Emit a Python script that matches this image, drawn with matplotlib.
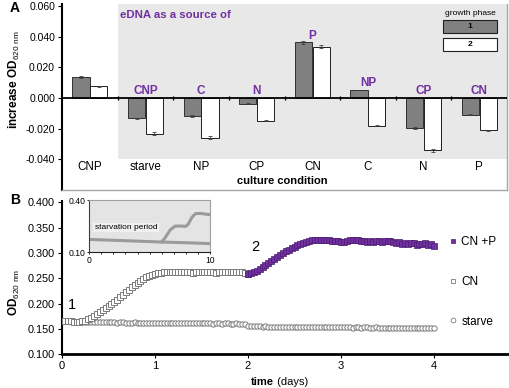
import numpy as np
import matplotlib

matplotlib.use("Agg")

import matplotlib.pyplot as plt
from matplotlib.patches import Rectangle
from matplotlib.lines import Line2D

plt.rcParams["font.family"] = ["Liberation Sans", "DejaVu Sans"]
plt.rcParams["mathtext.fontset"] = "custom"
plt.rcParams["mathtext.rm"] = "Liberation Sans"
plt.rcParams["mathtext.bf"] = "Liberation Sans:bold"

# ---- panel A data ----
categories = ["CNP", "starve", "NP", "CP", "CN", "C", "N", "P"]
edna_source = ["", "CNP", "C", "N", "P", "NP", "CP", "CN"]
phase1 = [0.0138, -0.0133, -0.0118, -0.0038, 0.0362, 0.0053, -0.0195, -0.0110]
phase2 = [0.0075, -0.0232, -0.0258, -0.0148, 0.0335, -0.0180, -0.0342, -0.0212]
err1 = [0.0005, 0.0005, 0.0005, 0.0003, 0.0012, 0.0002, 0.0006, 0.0003]
err2 = [0.0004, 0.0008, 0.0008, 0.0005, 0.0010, 0.0005, 0.0010, 0.0005]

# ---- panel B data (one reading every 1/32 day) ----
cn = [
    0.166, 0.166, 0.165, 0.165, 0.164, 0.164, 0.164, 0.165,
    0.166, 0.169, 0.172, 0.176, 0.180, 0.184, 0.188, 0.192,
    0.196, 0.199, 0.203, 0.208, 0.213, 0.217, 0.222, 0.227,
    0.232, 0.237, 0.241, 0.245, 0.249, 0.252, 0.255, 0.257,
    0.259, 0.260, 0.261, 0.262, 0.262, 0.263, 0.263, 0.262,
    0.263, 0.262, 0.263, 0.263, 0.262, 0.261, 0.262, 0.263,
    0.263, 0.262, 0.263, 0.263, 0.262, 0.261, 0.262, 0.263,
    0.263, 0.262, 0.262, 0.263, 0.262, 0.263, 0.262, 0.261,
    0.258,
]
starve = [
    0.166, 0.166, 0.165, 0.165, 0.165, 0.164, 0.164, 0.164, 0.164, 0.163, 0.163, 0.163, 0.163, 0.163, 0.163, 0.163,
    0.163, 0.163, 0.163, 0.162, 0.163, 0.163, 0.162, 0.162, 0.162, 0.163, 0.162, 0.162, 0.162, 0.162, 0.162, 0.162,
    0.162, 0.162, 0.161, 0.162, 0.162, 0.161, 0.162, 0.162, 0.161, 0.161, 0.161, 0.162, 0.161, 0.161, 0.161, 0.161,
    0.161, 0.161, 0.161, 0.161, 0.160, 0.161, 0.161, 0.160, 0.161, 0.161, 0.160, 0.160, 0.161, 0.160, 0.160, 0.159,
    0.156, 0.155, 0.155, 0.155, 0.155, 0.154, 0.155, 0.154, 0.154, 0.154, 0.154, 0.154, 0.154, 0.154, 0.154, 0.154,
    0.154, 0.154, 0.153, 0.154, 0.154, 0.153, 0.153, 0.154, 0.153, 0.153, 0.153, 0.153, 0.153, 0.154, 0.153, 0.153,
    0.153, 0.153, 0.153, 0.153, 0.152, 0.153, 0.153, 0.152, 0.153, 0.153, 0.152, 0.152, 0.153, 0.152, 0.152, 0.152,
    0.152, 0.152, 0.152, 0.152, 0.152, 0.151, 0.152, 0.152, 0.152, 0.151, 0.152, 0.152, 0.151, 0.151, 0.152, 0.151,
    0.151,
]
cn_p = [
    0.258, 0.260, 0.262, 0.265, 0.268, 0.272, 0.276, 0.280, 0.284, 0.288, 0.292, 0.296, 0.299, 0.303, 0.306, 0.309,
    0.312, 0.315, 0.317, 0.320, 0.322, 0.324, 0.325, 0.326, 0.326, 0.325, 0.326, 0.325, 0.326, 0.324, 0.323, 0.324,
    0.321, 0.321, 0.324, 0.326, 0.326, 0.326, 0.326, 0.323, 0.323, 0.322, 0.323, 0.322, 0.324, 0.323, 0.321, 0.323,
    0.323, 0.323, 0.322, 0.320, 0.322, 0.318, 0.319, 0.317, 0.319, 0.320, 0.316, 0.318, 0.317, 0.319, 0.315, 0.317,
    0.313,
]
t_cn = np.arange(len(cn)) / 32
t_starve = np.arange(len(starve)) / 32
t_cn_p = 2 + np.arange(len(cn_p)) / 32

# inset: starvation period
inset_t_low = [0, 2, 4, 6, 8, 10]
inset_low = [0.174, 0.169, 0.164, 0.159, 0.155, 0.150]
inset_t_high = [6.0, 6.3, 6.7, 7.1, 7.5, 8.0, 8.2, 8.5, 8.8, 9.2, 10]
inset_high = [0.160, 0.185, 0.228, 0.250, 0.251, 0.249, 0.262, 0.300, 0.322, 0.323, 0.316]

PURPLE = "#7030a0"

fig = plt.figure(figsize=(5.1, 3.88), dpi=100)

# ================= panel A =================
axA = fig.add_axes([0.1216, 0.5103, 0.8726, 0.4804])
x = np.arange(len(categories))
axA.add_patch(Rectangle((0.5, -0.040), 7.0, 0.2, facecolor="#e8e8e8", lw=0, zorder=0))
axA.bar(x - 0.16, phase1, 0.31, color="#808080", edgecolor="#303030", lw=0.7, zorder=2,
        yerr=err1, error_kw=dict(ecolor="#404040", elinewidth=0.6, capsize=1.5, capthick=0.6))
axA.bar(x + 0.16, phase2, 0.31, color="white", edgecolor="#202020", lw=0.7, zorder=2,
        yerr=err2, error_kw=dict(ecolor="#404040", elinewidth=0.6, capsize=1.5, capthick=0.6))
axA.axhline(0, color="black", lw=1.3, zorder=3)
axA.plot(np.arange(0.5, 7.5, 1), np.zeros(7), ls="none", marker="|", ms=2.5, mew=1,
         color="black", zorder=3)

axA.set_xlim(-0.5, 7.5)
axA.set_ylim(-0.060, 0.0615)
axA.set_xticks([])
yt = [-0.04, -0.02, 0.0, 0.02, 0.04, 0.06]
axA.set_yticks(yt)
axA.set_yticklabels([f"{v:.3f}" for v in yt], fontsize=7.5)
axA.tick_params(axis="y", length=3, width=0.8, pad=2)
axA.spines["top"].set_visible(False)
axA.spines["left"].set_linewidth(1.5)
for s in ("right", "bottom"):
    axA.spines[s].set_color("#a6a6a6")
    axA.spines[s].set_linewidth(1.0)

for i, cat in enumerate(categories):
    axA.text(i, -0.045, cat, ha="center", va="center", fontsize=8.4)
    if edna_source[i]:
        axA.text(i, max(phase1[i], 0) + 0.0045, edna_source[i], ha="center", va="center",
                 fontsize=8.5, fontweight="bold", color=PURPLE, zorder=4)
axA.text(3.46, -0.054, "culture condition", ha="center", va="center", fontsize=8,
         fontweight="bold")
axA.text(0.54, 0.054, "eDNA as a source of", ha="left", va="center", fontsize=8.2,
         fontweight="bold", color=PURPLE)

# growth phase key
axA.text(0.917, 0.948, "growth phase", transform=axA.transAxes, ha="center", va="center",
         fontsize=6)
for (y0, face, lab) in [(0.842, "#808080", "1"), (0.746, "white", "2")]:
    axA.add_patch(Rectangle((0.856, y0), 0.121, 0.07, transform=axA.transAxes,
                            facecolor=face, edgecolor="#202020", lw=0.8, zorder=4))
    axA.text(0.9165, y0 + 0.035, lab, transform=axA.transAxes, ha="center", va="center",
             fontsize=6, fontweight="bold", zorder=5)

# ================= panel B =================
axB = fig.add_axes([0.1216, 0.0869, 0.8753, 0.3956])
axB.plot(t_starve, starve, ls="none", marker="o", ms=3.8, mfc="white", mec="#7a7a7a",
         mew=0.7, label="starve", zorder=2)
axB.plot(t_cn, cn, ls="none", marker="s", ms=3.7, mfc="white", mec="#7a7a7a",
         mew=0.7, label="CN", zorder=3)
axB.plot(t_cn_p, cn_p, ls="none", marker="s", ms=3.7, mfc=PURPLE, mec="#4a1c70",
         mew=0.5, label="CN +P", zorder=4)

axB.set_xlim(0, 4.8)
axB.set_ylim(0.1, 0.403)
axB.set_xticks([0, 1, 2, 3, 4])
axB.set_xticklabels(["0", "1", "2", "3", "4"], fontsize=8)
ytB = [0.1, 0.15, 0.2, 0.25, 0.3, 0.35, 0.4]
axB.set_yticks(ytB)
axB.set_yticklabels([f"{v:.3f}" for v in ytB], fontsize=7.8)
axB.tick_params(axis="both", length=3, width=0.8, pad=2)
axB.spines["top"].set_visible(False)
axB.spines["right"].set_visible(False)
axB.spines["left"].set_linewidth(1.5)
axB.spines["bottom"].set_linewidth(2.0)

axB.text(0.108, 0.197, "1", ha="center", va="center", fontsize=10.5)
axB.text(2.075, 0.312, "2", ha="center", va="center", fontsize=10.5)

handles = [
    Line2D([], [], ls="none", marker="s", ms=3.3, mfc=PURPLE, mec="#4a1c70", mew=0.5),
    Line2D([], [], ls="none", marker="s", ms=3.3, mfc="white", mec="#7a7a7a", mew=0.6),
    Line2D([], [], ls="none", marker="o", ms=3.4, mfc="white", mec="#7a7a7a", mew=0.6),
]
axB.legend(handles, ["CN +P", "CN", "starve"], loc="upper left",
           bbox_to_anchor=(0.868, 0.77), frameon=False, fontsize=8.5, handlelength=0.6,
           handletextpad=0.4, labelspacing=2.35, borderpad=0, borderaxespad=0)

# inset
axI = fig.add_axes([0.175, 0.3497, 0.2367, 0.1348])
axI.set_facecolor("#e4e4e4")
axI.plot(inset_t_low, inset_low, color="#9a9a9a", lw=2.2)
axI.plot(inset_t_high, inset_high, color="#9a9a9a", lw=2.2)
axI.set_xlim(0, 10)
axI.set_ylim(0.10, 0.40)
axI.set_xticks(range(11))
axI.set_xticklabels(["0"] + [""] * 9 + ["10"], fontsize=6.2)
axI.set_yticks([0.10, 0.40])
axI.set_yticklabels(["0.10", "0.40"], fontsize=6.2)
axI.tick_params(axis="both", length=1.5, width=0.6, pad=1)
axI.spines["left"].set_color("#404040")
axI.spines["bottom"].set_color("#202020")
axI.spines["top"].set_color("#a0a0a0")
axI.spines["right"].set_color("#a0a0a0")
axI.text(0.45, 0.243, "starvation period", ha="left", va="center", fontsize=6,
         bbox=dict(boxstyle="square,pad=0.15", facecolor="#f0f0f0", edgecolor="none"))

# ================= figure labels =================
fig.text(10 / 510, 1 - 8 / 388, "A", fontsize=10, fontweight="bold", ha="left", va="center")
fig.text(10 / 510, 1 - 200 / 388, "B", fontsize=10, fontweight="bold", ha="left", va="center")
fig.text(14 / 510, 0.794, r"$\mathbf{increase\ OD}_{\mathrm{620\ nm}}$", rotation=90,
         ha="center", va="center", fontsize=8.5)
fig.text(14 / 510, 0.247, r"$\mathbf{OD}_{\mathrm{620\ nm}}$", rotation=90,
         ha="center", va="center", fontsize=8.5)
fig.text(274 / 510, 1 - 382 / 388, "time", fontsize=8, fontweight="bold", ha="right",
         va="center")
fig.text(274 / 510, 1 - 382 / 388, " (days)", fontsize=8, ha="left", va="center")

fig.savefig("out.png", dpi=100)
